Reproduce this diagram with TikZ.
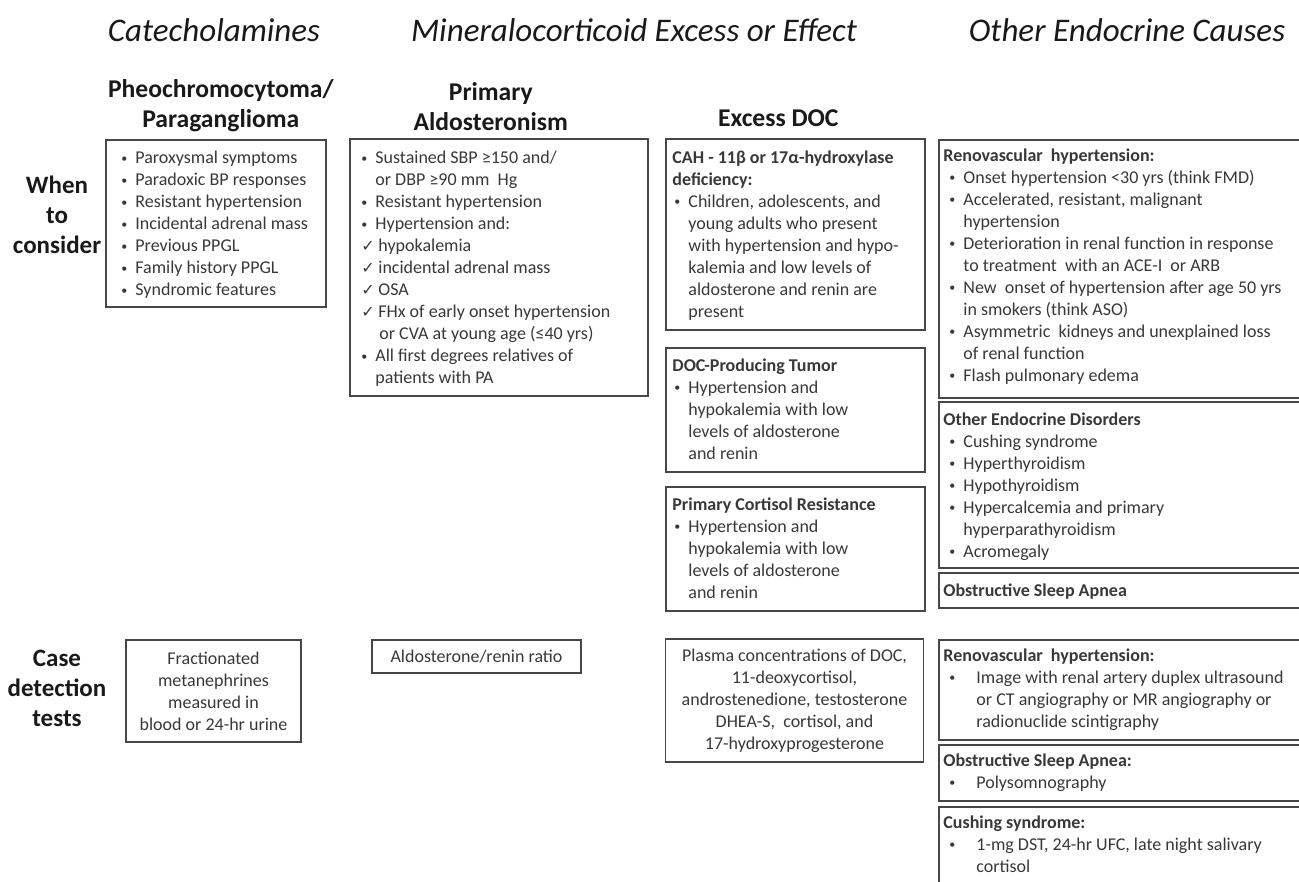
\documentclass[tikz,border=0pt]{standalone}
\usepackage{fontspec}
\setmainfont{Carlito}
\newfontfamily\symfont{DejaVu Sans}
\usetikzlibrary{positioning}

\newcommand{\bul}[1][7pt]{\makebox[#1][l]{\raisebox{0.7pt}{\fontsize{6}{6}\selectfont\textbullet}}}
\newcommand{\ind}[1][7pt]{\hspace*{#1}}
\newcommand{\chk}{\makebox[8.5pt][l]{{\symfont\fontsize{8}{8}\selectfont ✓}}}
\newcommand{\hd}[2][-3pt]{\hspace*{#1}\textbf{#2}}

\begin{document}
\begin{tikzpicture}[x=0.5pt, y=-0.5pt,
  hdr/.style={font=\fontsize{16.5}{19}\selectfont\itshape, text=black!90},
  sub/.style={font=\fontsize{12.8}{15}\selectfont\bfseries, align=center, text=black!90},
  rowlbl/.style={font=\fontsize{12.5}{15}\selectfont\bfseries, align=center, text=black!90},
  box/.style={draw=black!72, line width=0.8pt, anchor=north west, inner sep=0pt},
  txt/.style={font=\fontsize{9}{11}\selectfont, text=black!78, align=left, anchor=north west, inner sep=0pt},
  ctr/.style={font=\fontsize{9}{11}\selectfont, text=black!78, align=center}]
  \useasboundingbox (0,0) rectangle (1299,882);
  \clip (0,0) rectangle (1299,882);

  % column heads
  \node[hdr] (cat) at (214,30) {Catecholamines};
  \node[hdr] (min) at (634,30) {Mineralocorticoid Excess or Effect};
  \node[hdr] (oth) at (1127,30) {Other Endocrine Causes};

  % row labels
  \node[rowlbl] (when) at (57,215) {When\\to\\consider};
  \node[rowlbl] (case) at (57,688) {Case\\detection\\tests};

  % when to consider: boxes
  \node[box, minimum width=110pt, minimum height=83.5pt] (pheo) at (105,139) {};
  \node[box, minimum width=149pt, minimum height=128.5pt] (pa) at (349,138) {};
  \node[box, minimum width=129.5pt, minimum height=95.5pt] (cah) at (665,138) {};
  \node[box, minimum width=129.5pt, minimum height=62pt] (doc) at (665,347) {};
  \node[box, minimum width=129.5pt, minimum height=62pt] (pcr) at (665,486) {};
  \node[box, minimum width=190pt, minimum height=129pt] (reno) at (938,139) {};
  \node[box, minimum width=190pt, minimum height=83pt] (endo) at (938,401) {};
  \node[box, minimum width=190pt, minimum height=17.5pt] (osa) at (938,572) {};

  \node[sub, above=0pt of pheo.north, xshift=2.5pt] (pheott) {Pheochromocytoma/\\Paraganglioma};
  \node[sub, above=0pt of pa.north, xshift=-4pt] (patt) {Primary\\Aldosteronism};
  \node[sub, above=2pt of cah.north, xshift=-8.5pt] (doctt) {Excess DOC};

  \node[txt, below right=6pt and 8pt of pheo.north west] (pheotx) {%
    \bul Paroxysmal symptoms\\
    \bul Paradoxic BP responses\\
    \bul Resistant hypertension\\
    \bul Incidental adrenal mass\\
    \bul Previous PPGL\\
    \bul Family history PPGL\\
    \bul Syndromic features};

  \node[txt, below right=6.5pt and 6pt of pa.north west] (patx) {%
    \bul Sustained SBP ≥150 and/\\
    \ind or DBP ≥90 mm\ \ Hg\\
    \bul Resistant hypertension\\
    \bul Hypertension and:\\
    \chk hypokalemia\\
    \chk incidental adrenal mass\\
    \chk OSA\\
    \chk FHx of early onset hypertension\\
    \ind[9pt]or CVA at young age (≤40 yrs)\\
    \bul All first degrees relatives of\\
    \ind patients with PA};

  \node[txt, below right=6pt and 4.5pt of cah.north west] (cahtx) {%
    \hd[-1pt]{CAH - 11β or 17α-hydroxylase}\\
    \hd[-1pt]{deficiency:}\\
    \bul Children, adolescents, and\\
    \ind young adults who present\\
    \ind with hypertension and hypo-\\
    \ind kalemia and low levels of\\
    \ind aldosterone and renin are\\
    \ind present};

  \node[txt, below right=5.5pt and 4.5pt of doc.north west] (doctx) {%
    \hd[-1pt]{DOC-Producing Tumor}\\
    \bul Hypertension and\\
    \ind hypokalemia with low\\
    \ind levels of aldosterone\\
    \ind and renin};

  \node[txt, below right=5.5pt and 4.5pt of pcr.north west] (pcrtx) {%
    \hd[-1pt]{Primary Cortisol Resistance}\\
    \bul Hypertension and\\
    \ind hypokalemia with low\\
    \ind levels of aldosterone\\
    \ind and renin};

  \node[txt, below right=4.5pt and 5.5pt of reno.north west] (renotx) {%
    \hd{Renovascular\ \ hypertension:}\\
    \bul Onset hypertension <30 yrs (think FMD)\\
    \bul Accelerated,\ resistant, malignant\\
    \ind hypertension\\
    \bul Deterioration in renal function in response\\
    \ind to treatment\ \ with an ACE-I\ \ or ARB\\
    \bul New\ \ onset of hypertension after age 50 yrs\\
    \ind in smokers (think ASO)\\
    \bul Asymmetric\ \ kidneys and unexplained loss\\
    \ind of renal function\\
    \bul Flash pulmonary edema};

  \node[txt, below right=5.5pt and 5.5pt of endo.north west] (endotx) {%
    \hd{Other Endocrine Disorders}\\
    \bul Cushing syndrome\\
    \bul Hyperthyroidism\\
    \bul Hypothyroidism\\
    \bul Hypercalcemia and primary\\
    \ind hyperparathyroidism\\
    \bul Acromegaly};

  \node[txt, below right=5.5pt and 5.5pt of osa.north west] (osatx) {%
    \hd{Obstructive Sleep Apnea}};

  % case detection tests
  \node[box, ctr, anchor=center, minimum width=87.5pt, minimum height=51pt] (frac) at (213.5,691)
    {Fractionated\\metanephrines\\measured in\\blood or 24-hr urine};
  \node[box, ctr, anchor=center, minimum width=104.5pt, minimum height=16.5pt] (arr) at (476.5,656.5)
    {Aldosterone/renin ratio};
  \node[box, ctr, anchor=center, minimum width=129pt, minimum height=61.5pt] (plas) at (794.5,700.5)
    {Plasma concentrations of DOC,\\11-deoxycortisol,\\androstenedione, testosterone\\DHEA-S,\ \ cortisol, and\\17-hydroxyprogesterone};

  \node[box, minimum width=190pt, minimum height=50pt] (reno2) at (938,639) {};
  \node[box, minimum width=190pt, minimum height=28pt] (osa2) at (938,744) {};
  \node[box, minimum width=190pt, minimum height=50pt] (cush) at (938,806) {};

  \node[txt, below right=4.5pt and 5.5pt of reno2.north west] (reno2tx) {%
    \hd{Renovascular\ \ hypertension:}\\
    \bul[13.5pt]Image with renal artery duplex ultrasound\\
    \ind[13.5pt]or CT angiography or MR angiography or\\
    \ind[13.5pt]radionuclide scintigraphy};

  \node[txt, below right=4.5pt and 5.5pt of osa2.north west] (osa2tx) {%
    \hd{Obstructive Sleep Apnea:}\\
    \bul[13.5pt]Polysomnography};

  \node[txt, below right=4.5pt and 5.5pt of cush.north west] (cushtx) {%
    \hd{Cushing syndrome:}\\
    \bul[13.5pt]1-mg DST, 24-hr UFC, late night salivary\\
    \ind[13.5pt]cortisol};
\end{tikzpicture}
\end{document}
